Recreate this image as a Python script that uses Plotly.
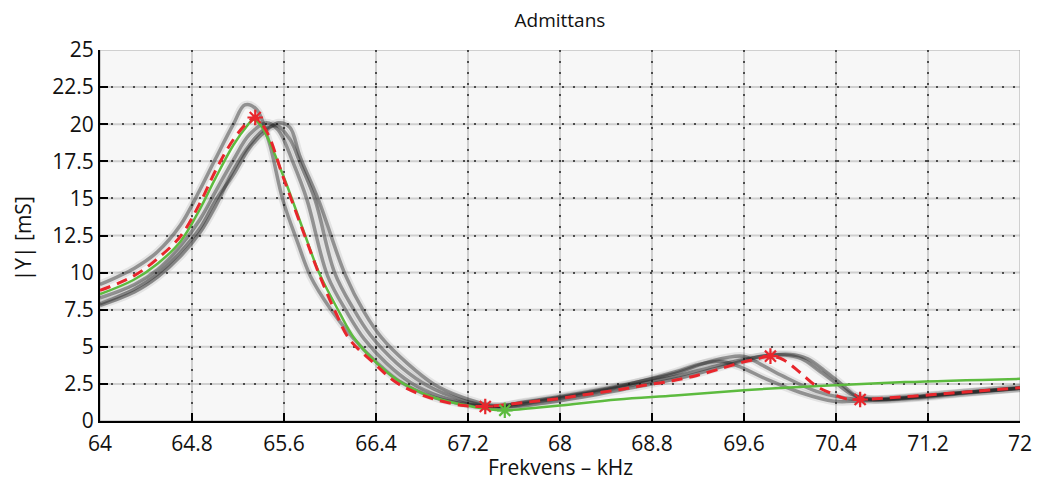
import plotly.graph_objects as go

# Frequency axis ticks (kHz) and admittance ticks (mS)
x_ticks = [64.0, 64.8, 65.6, 66.4, 67.2, 68.0, 68.8, 69.6, 70.4, 71.2, 72.0]
x_labels = ["64", "64.8", "65.6", "66.4", "67.2", "68", "68.8", "69.6", "70.4", "71.2", "72"]
y_ticks = [0, 2.5, 5, 7.5, 10, 12.5, 15, 17.5, 20, 22.5, 25]
y_labels = ["0", "2.5", "5", "7.5", "10", "12.5", "15", "17.5", "20", "22.5", "25"]

# Measured sweeps (scanned traces)
meas_a_f = [64.0, 64.3, 64.5, 64.7, 64.87, 65.0, 65.16, 65.26, 65.36, 65.47, 65.59, 65.72, 65.83, 66.0,
            66.2, 66.4, 66.6, 66.9, 67.2, 67.4, 67.7, 68.0, 68.5, 69.0, 69.2, 69.39, 69.55, 69.8, 70.09,
            70.38, 70.6, 71.0, 71.5, 72.0]
meas_a_y = [9.2, 10.3, 11.4, 13.2, 15.6, 17.6, 20.0, 21.3, 21.0, 18.8, 14.9, 12.0, 9.76, 7.6,
            5.6, 4.0, 2.7, 1.6, 1.1, 0.95, 1.25, 1.6, 2.3, 3.3, 3.8, 4.03, 3.7, 2.8, 1.92,
            1.33, 1.35, 1.55, 1.9, 2.2]

meas_b_f = [64.0, 64.3, 64.5, 64.7, 64.87, 65.0, 65.16, 65.3, 65.45, 65.55, 65.68, 65.8, 65.98, 66.15,
            66.3, 66.49, 66.7, 66.95, 67.2, 67.45, 67.7, 68.0, 68.5, 69.0, 69.3, 69.59, 69.75, 69.94,
            70.23, 70.46, 70.6, 71.0, 71.5, 72.0]
meas_b_y = [8.3, 9.2, 10.2, 11.8, 13.6, 15.4, 17.6, 19.3, 20.1, 19.6, 17.4, 14.9, 9.76, 7.3,
            5.5, 3.9, 2.6, 1.67, 1.15, 0.98, 1.3, 1.65, 2.35, 3.2, 4.0, 4.37, 3.8, 3.02,
            2.0, 1.58, 1.45, 1.6, 1.92, 2.25]

meas_c_f = [64.0, 64.3, 64.5, 64.7, 64.87, 65.0, 65.16, 65.3, 65.42, 65.54, 65.65, 65.75, 65.87, 66.04,
            66.2, 66.35, 66.58, 66.8, 67.05, 67.3, 67.5, 67.8, 68.2, 68.6, 69.0, 69.35, 69.7, 70.0,
            70.15, 70.3, 70.43, 70.58, 70.75, 71.0, 71.5, 72.0]
meas_c_y = [7.8, 8.7, 9.7, 11.1, 12.7, 14.4, 16.9, 18.6, 19.6, 19.9, 19.0, 17.2, 14.9, 10.0,
            7.6, 5.8, 3.9, 2.6, 1.67, 1.1, 0.95, 1.3, 1.8, 2.4, 3.0, 3.7, 4.3, 4.48,
            4.2, 3.4, 2.6, 1.67, 1.45, 1.55, 1.9, 2.22]

meas_d_f = [64.0, 64.3, 64.5, 64.7, 64.87, 65.0, 65.16, 65.3, 65.45, 65.55, 65.65, 65.74, 65.9, 66.13,
            66.3, 66.45, 66.67, 66.9, 67.15, 67.4, 67.6, 67.9, 68.3, 68.7, 69.1, 69.45, 69.75, 69.95,
            70.1, 70.25, 70.4, 70.55, 70.7, 71.0, 71.5, 72.0]
meas_d_y = [7.9, 8.9, 9.9, 11.4, 13.0, 14.8, 16.6, 18.4, 19.6, 20.1, 19.8, 17.8, 14.9, 9.9,
            7.3, 5.6, 3.9, 2.5, 1.6, 1.05, 0.97, 1.25, 1.75, 2.35, 3.0, 3.75, 4.35, 4.45,
            4.2, 3.4, 2.55, 1.75, 1.45, 1.5, 1.85, 2.2]

# Fitted model (red dashed)
fit_f = [64.0, 64.29, 64.49, 64.7, 64.87, 65.01, 65.16, 65.28, 65.35, 65.45, 65.59, 65.77, 65.91, 66.05,
         66.17, 66.38, 66.58, 66.87, 67.16, 67.35, 67.71, 68.0, 68.23, 68.49, 68.72, 68.96, 69.19, 69.42,
         69.57, 69.72, 69.83, 69.94, 70.09, 70.23, 70.38, 70.49, 70.61, 70.81, 71.07, 71.5, 72.0]
fit_y = [8.8, 9.76, 10.88, 12.45, 14.7, 16.95, 18.97, 20.09, 20.45, 19.5, 16.5, 12.7, 9.8, 7.3,
         5.5, 3.92, 2.57, 1.56, 1.04, 0.98, 1.27, 1.52, 1.79, 2.08, 2.39, 2.68, 3.07, 3.58,
         3.92, 4.2, 4.37, 4.14, 3.25, 2.35, 1.79, 1.49, 1.45, 1.54, 1.67, 1.94, 2.24]

# Single-resonance model (green)
model_f = [64.0, 64.29, 64.5, 64.7, 64.87, 65.0, 65.16, 65.28, 65.33, 65.4, 65.59, 65.77, 65.91, 66.09,
           66.2, 66.38, 66.58, 66.87, 67.16, 67.35, 67.52, 67.75, 68.0, 68.5, 69.0, 69.57, 70.2, 71.0, 72.0]
model_y = [8.55, 9.5, 10.6, 12.1, 14.3, 16.3, 18.6, 19.9, 20.3, 19.9, 16.6, 12.8, 9.9, 7.2,
           5.7, 4.1, 2.8, 1.67, 1.09, 0.82, 0.72, 0.86, 1.04, 1.45, 1.72, 2.06, 2.35, 2.62, 2.84]

# Extremum markers
fit_ext_f = [65.35, 67.35, 69.83, 70.61]
fit_ext_y = [20.45, 0.98, 4.37, 1.45]
model_ext_f = [67.52]
model_ext_y = [0.72]

RED = "#e8262c"
GREEN = "#5dbb3f"
FONT = "Open Sans"
fig = go.Figure()

for f, y in [(meas_a_f, meas_a_y), (meas_b_f, meas_b_y), (meas_c_f, meas_c_y), (meas_d_f, meas_d_y)]:
    fig.add_trace(go.Scatter(x=f, y=y, mode="lines", line=dict(color="rgba(0,0,0,0.08)", width=8, shape="spline"),
                             hoverinfo="skip", showlegend=False))
    fig.add_trace(go.Scatter(x=f, y=y, mode="lines", line=dict(color="rgba(30,30,30,0.42)", width=3.5, shape="spline"),
                             hoverinfo="skip", showlegend=False))

fig.add_trace(go.Scatter(x=model_f, y=model_y, mode="lines",
                         line=dict(color=GREEN, width=2.5, shape="spline"), showlegend=False))
fig.add_trace(go.Scatter(x=fit_f, y=fit_y, mode="lines",
                         line=dict(color=RED, width=3, dash="11px,7px", shape="spline"), showlegend=False))
fig.add_trace(go.Scatter(x=fit_ext_f, y=fit_ext_y, mode="markers",
                         marker=dict(symbol="asterisk-open", size=13, color=RED, line=dict(color=RED, width=2.2)),
                         showlegend=False))
fig.add_trace(go.Scatter(x=model_ext_f, y=model_ext_y, mode="markers",
                         marker=dict(symbol="asterisk-open", size=13, color=GREEN, line=dict(color=GREEN, width=2.2)),
                         showlegend=False))

# Grey ruled lines of the paper behind the dotted grid
for v in x_ticks:
    fig.add_vline(x=v, line=dict(color="rgba(150,150,150,0.4)", width=2), layer="below")
for v in y_ticks:
    fig.add_hline(y=v, line=dict(color="rgba(150,150,150,0.4)", width=2), layer="below")

axis_common = dict(
    showline=True, linecolor="black", linewidth=2,
    ticks="inside", ticklen=8, tickwidth=2, tickcolor="black",
    showgrid=True, gridcolor="rgba(20,20,20,0.7)", gridwidth=1.5, griddash="2px,9px",
    zeroline=False, mirror=False, automargin=False,
    tickfont=dict(family=FONT, size=21, color="#111"),
)

fig.update_layout(
    width=1037, height=483,
    margin=dict(l=100, r=17, t=50, b=62),
    paper_bgcolor="white", plot_bgcolor="#f7f7f7",
    title=dict(text="Admittans", x=0.54, xanchor="center", y=0.958, yanchor="middle",
               font=dict(family=FONT, size=19, color="#111")),
    xaxis=dict(range=[64, 72], tickvals=x_ticks, ticktext=x_labels, ticklabelstandoff=3, **axis_common),
    yaxis=dict(range=[0, 25], tickvals=y_ticks, ticktext=y_labels, **axis_common),
)

# Axis titles
fig.add_annotation(text="Frekvens – kHz", xref="paper", yref="paper", x=0.5, y=0, yshift=-62,
                   xanchor="center", yanchor="bottom", showarrow=False,
                   font=dict(family=FONT, size=21, color="#111"))
fig.add_annotation(text="|Y| [mS]", xref="paper", yref="paper", x=0, y=0.49, xshift=-77,
                   xanchor="center", yanchor="middle", textangle=-90, showarrow=False,
                   font=dict(family=FONT, size=21, color="#111"))

fig.write_html("out.html")
